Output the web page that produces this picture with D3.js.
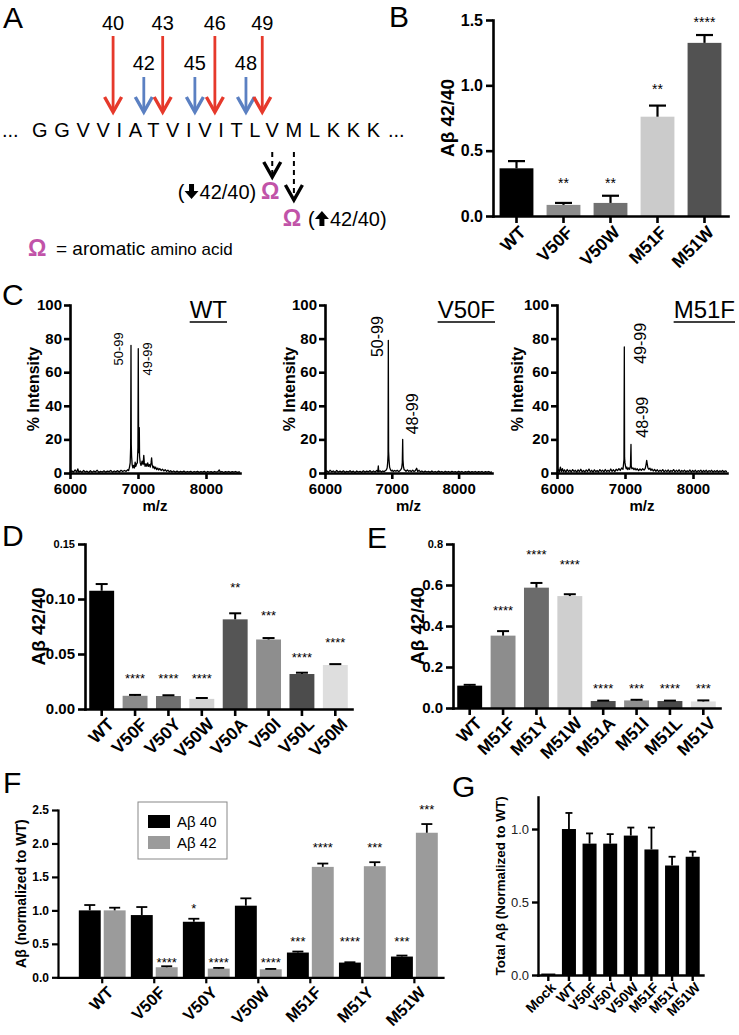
<!DOCTYPE html>
<html><head><meta charset="utf-8">
<script src="https://cdn.jsdelivr.net/npm/d3@7"></script>
<style>body{margin:0;background:#fff} svg text{font-family:"Liberation Sans",Arial,Helvetica,sans-serif}</style>
</head><body><svg id="fig" width="739" height="1035"></svg>
<script>
// ================= DATA =================
// Panel A
const seqResidues = ["G","G","V","V","I","A","T","V","I","V","I","T","L","V","M","L","K","K","K"];
const seqFirstResidue = 37;
const cleavageMajor = [40,43,46,49];
const cleavageMinor = [42,45,48];
const mutSites = [50,51];
const mutEffects = ["down","up"];
// Panel B
const bCats = ["WT","V50F","V50W","M51F","M51W"];
const bVals = [0.365,0.085,0.10,0.76,1.325];
const bErr  = [0.42,0.10,0.155,0.845,1.385];
const bSig  = ["","**","**","**","****"];
const bSigLevel = [null,0.275,0.275,1.0,1.51];
const bTicks = [0,0.5,1.0,1.5];
// Panel C spectra [m/z, % intensity]
const wtSpectrum = [[6000,0.4],[6025,1.3],[6050,0.5],[6075,1.8],[6100,0.6],[6115,2.4],[6130,0.5],[6150,1.2],[6175,0.4],[6200,1.5],[6225,0.6],[6250,1.1],[6275,0.3],[6300,1.4],[6325,0.5],[6350,1.2],[6375,0.7],[6400,1.6],[6425,0.4],[6450,1.0],[6475,0.6],[6500,1.3],[6525,0.5],[6550,1.1],[6575,0.8],[6600,1.5],[6625,0.5],[6650,1.2],[6675,0.7],[6700,1.4],[6725,0.6],[6750,1.6],[6775,0.9],[6800,1.5],[6825,1.0],[6850,1.9],[6862,1.4],[6875,3.5],[6885,6],[6892,15],[6897,76],[6901,17],[6906,10],[6914,5],[6924,3],[6935,4.5],[6948,3],[6958,6.5],[6968,4],[6980,5.5],[6990,6],[6999,15],[7004,74],[7009,20],[7014,12],[7019,27],[7023,10],[7033,6],[7045,4.5],[7060,7],[7075,5],[7085,10.5],[7093,6],[7105,4],[7118,5.5],[7130,4],[7143,6],[7155,4],[7168,5],[7180,3.5],[7192,6],[7200,9],[7208,5],[7220,3],[7232,4],[7245,2.5],[7260,3.5],[7275,2],[7290,2.9],[7305,1.8],[7320,2.6],[7340,1.5],[7360,2.3],[7380,1.2],[7400,2.0],[7420,1.0],[7440,1.7],[7460,0.7],[7480,1.4],[7500,0.6],[7525,1.2],[7550,0.5],[7575,1.1],[7600,0.4],[7625,1.0],[7650,0.5],[7675,1.1],[7700,0.4],[7725,0.9],[7750,0.5],[7775,1.0],[7800,0.3],[7825,0.9],[7850,0.5],[7875,1.0],[7900,0.4],[7925,0.8],[7950,0.5],[7975,1.0],[8000,0.3],[8025,0.9],[8050,0.5],[8075,0.8],[8100,0.4],[8125,0.9],[8150,0.5],[8175,0.8],[8195,1.8],[8210,0.5],[8235,0.9],[8260,0.3],[8285,0.8],[8310,0.5],[8335,0.9],[8360,0.4],[8385,0.8],[8410,0.5],[8435,0.9],[8460,0.4],[8485,0.7],[8500,0.5]];
const v50fSpectrum = [[6000,0.6],[6025,1.4],[6050,0.4],[6075,1.6],[6100,0.7],[6125,1.2],[6150,0.4],[6175,1.5],[6200,0.6],[6225,1.1],[6250,0.5],[6275,1.3],[6300,0.4],[6325,1.0],[6350,0.6],[6375,1.4],[6400,0.5],[6425,1.1],[6450,0.3],[6475,1.2],[6500,0.6],[6525,1.0],[6550,0.4],[6575,1.3],[6600,0.5],[6625,1.1],[6650,0.7],[6675,1.4],[6700,0.5],[6725,1.2],[6750,0.6],[6775,1.5],[6790,0.8],[6798,4.2],[6805,0.8],[6825,1.3],[6845,0.6],[6865,1.2],[6885,0.8],[6905,1.5],[6918,1.8],[6930,3],[6938,6],[6944,11],[6948,79],[6952,13],[6958,8],[6967,3.5],[6980,2],[6992,1.2],[7007,1.7],[7022,0.9],[7042,1.5],[7062,1.0],[7082,1.6],[7102,0.8],[7120,1.4],[7135,1.9],[7148,3],[7157,6],[7163,20],[7167,8],[7174,4],[7184,2],[7198,1.6],[7213,1.0],[7233,1.8],[7253,1.0],[7273,1.5],[7293,0.8],[7313,1.7],[7333,0.9],[7353,1.4],[7372,2.8],[7388,0.8],[7408,1.6],[7428,0.7],[7450,1.2],[7475,0.5],[7500,1.1],[7525,0.6],[7550,1.0],[7575,0.4],[7600,1.2],[7625,0.5],[7650,0.9],[7675,0.4],[7700,1.1],[7725,0.5],[7750,0.9],[7775,0.3],[7800,1.0],[7825,0.5],[7850,0.9],[7875,0.4],[7900,1.0],[7925,0.5],[7950,0.8],[7975,0.4],[8000,1.0],[8025,0.5],[8050,0.9],[8075,0.3],[8100,0.8],[8125,0.5],[8150,1.0],[8175,0.4],[8200,0.8],[8225,0.5],[8250,0.9],[8275,0.4],[8300,0.8],[8325,0.5],[8350,0.9],[8375,0.3],[8400,0.8],[8425,0.5],[8450,0.9],[8475,0.4],[8500,0.7]];
const m51fSpectrum = [[6000,0.8],[6020,2.2],[6035,0.6],[6050,3.5],[6065,0.9],[6080,2.6],[6095,0.7],[6110,1.9],[6130,0.5],[6150,2.1],[6170,0.8],[6190,1.7],[6210,0.6],[6230,2.0],[6250,0.9],[6270,1.6],[6290,0.5],[6310,1.9],[6330,0.8],[6350,2.2],[6370,0.7],[6390,1.5],[6410,0.6],[6430,1.8],[6450,0.9],[6470,2.3],[6490,0.7],[6510,1.6],[6530,0.5],[6550,1.9],[6570,0.8],[6590,1.5],[6610,0.6],[6630,2.0],[6650,0.9],[6670,1.7],[6690,0.7],[6710,2.1],[6730,0.8],[6750,1.6],[6770,0.9],[6790,2.4],[6810,1.0],[6830,1.9],[6850,0.8],[6870,2.2],[6890,1.4],[6910,2.6],[6930,1.5],[6950,3],[6970,2.2],[6978,5],[6985,8],[6990,75],[6994,9],[7000,6],[7008,4],[7018,2.5],[7028,3.5],[7040,2],[7055,3],[7068,2.2],[7080,4],[7088,17],[7092,4],[7102,2.5],[7117,3],[7132,2],[7147,2.8],[7162,1.8],[7180,2.5],[7200,1.5],[7220,2.4],[7240,1.6],[7260,2.5],[7280,1.8],[7297,2.6],[7310,5],[7319,7.5],[7327,5.5],[7337,3],[7352,2.2],[7367,2.8],[7382,1.5],[7397,2.4],[7415,1.2],[7435,2.1],[7455,1.0],[7475,1.9],[7495,0.8],[7515,1.7],[7535,0.9],[7555,2.0],[7575,0.7],[7595,1.6],[7615,0.8],[7635,1.8],[7655,0.6],[7675,1.5],[7695,0.9],[7715,2.0],[7735,0.7],[7755,1.6],[7775,0.8],[7795,1.9],[7815,0.6],[7835,1.5],[7855,0.9],[7875,1.7],[7895,0.6],[7915,1.4],[7935,0.8],[7955,1.8],[7975,0.5],[7995,1.5],[8015,0.8],[8035,1.6],[8055,0.6],[8075,1.4],[8095,0.9],[8115,1.7],[8135,0.5],[8155,1.5],[8175,0.8],[8195,1.6],[8215,0.6],[8235,1.4],[8255,0.9],[8275,1.6],[8295,0.5],[8315,1.4],[8335,0.8],[8355,1.5],[8375,0.6],[8395,1.3],[8415,0.8],[8435,1.5],[8455,0.6],[8475,1.3],[8500,0.8]];
const cXTicks = [6000,7000,8000];
const cYTicks = [0,20,40,60,80,100];
// peak labels: [text, m/z of label centre, intensity at label bottom]
const wtPeakLabels   = [["50-99",6706,64],["49-99",7132,58]];
const v50fPeakLabels = [["50-99",6778,69],["48-99",7302,23]];
const m51fPeakLabels = [["49-99",7221,65],["48-99",7250,21]];
// Panel D
const dCats = ["WT","V50F","V50Y","V50W","V50A","V50I","V50L","V50M"];
const dVals = [0.1075,0.012,0.0118,0.0092,0.0815,0.0632,0.0318,0.0400];
const dErr  = [0.1136,0.0128,0.0125,0.0100,0.0870,0.0645,0.0330,0.0408];
const dSig  = ["","****","****","****","**","***","****","****"];
const dSigLevel = [null,0.031,0.031,0.031,0.1136,0.088,0.050,0.0636];
const dTicks = [0,0.05,0.10,0.15];
// Panel E
const eCats = ["WT","M51F","M51Y","M51W","M51A","M51I","M51L","M51V"];
const eVals = [0.109,0.353,0.587,0.546,0.034,0.037,0.034,0.032];
const eErr  = [0.113,0.375,0.61,0.555,0.036,0.040,0.036,0.037];
const eSig  = ["","****","****","****","****","***","****","***"];
const eSigLevel = [null,0.494,0.766,0.714,0.109,0.109,0.109,0.109];
const eTicks = [0,0.2,0.4,0.6,0.8];
// Panel F
const fCats = ["WT","V50F","V50Y","V50W","M51F","M51Y","M51W"];
const fSeries = ["Aβ 40","Aβ 42"];
const fAb40 = [1.0,0.93,0.83,1.07,0.37,0.22,0.31];
const fAb40Err = [1.08,1.05,0.875,1.18,0.385,0.225,0.325];
const fAb42 = [1.0,0.15,0.13,0.12,1.65,1.66,2.16];
const fAb42Err = [1.04,0.165,0.14,0.125,1.70,1.72,2.29];
const fAb40Sig = ["","","*","","***","****","***"];
const fAb40SigLevel = [null,null,1.08,null,0.587,0.587,0.587];
const fAb42Sig = ["","****","****","****","****","***","***"];
const fAb42SigLevel = [null,0.274,0.274,0.274,1.995,1.995,2.55];
const fTicks = [0,0.5,1.0,1.5,2.0,2.5];
// Panel G
const gCats = ["Mock","WT","V50F","V50Y","V50W","M51F","M51Y","M51W"];
const gVals = [0.01,1.0,0.9,0.9,0.955,0.86,0.75,0.81];
const gErr  = [0.01,1.11,0.97,0.965,1.01,1.01,0.81,0.845];
const gTicks = [0,0.5,1.0];

// ================= STYLES =================
const bColors = ["#000","#8c8c8c","#717171","#cbcbcb","#525252"];
const dColors = ["#000","#8b8b8b","#6f6f6f","#d2d2d2","#555","#8e8e8e","#4c4c4c","#dedede"];
const eColors = ["#000","#8d8d8d","#6b6b6b","#cfcfcf","#4d4d4d","#8e8e8e","#4a4a4a","#dedede"];
const gColors = gCats.map(()=>"#000");
const fColors = ["#000","#9b9b9b"];
const RED = "#e6392b", BLUE = "#5b80c2", MAG = "#c153a8";
const FONT = '"Liberation Sans", Arial, Helvetica, sans-serif';

const svg = d3.select("#fig");

function styleAxis(sel, o){
  sel.select(".domain").attr("stroke","#000").attr("stroke-width",o.lw).attr("stroke-linecap","square");
  sel.selectAll(".tick line").attr("stroke","#000").attr("stroke-width",o.lw);
  sel.selectAll(".tick text").attr("fill",o.tc||"#000").style("font-family",FONT)
     .style("font-size",o.fs+"px").style("font-weight",o.fw||"bold");
}
function panelLetter(t,x,y){
  svg.append("text").attr("x",x).attr("y",y).style("font-size","30px").text(t);
}

// ================= PANEL A =================
(function(){
  const g = svg.append("g");
  panelLetter("A",3,28);
  const seqY = 137;
  g.append("text").attr("x",2).attr("y",seqY).style("font-size","20px").text("...");
  const seq = g.append("text").attr("x",32).attr("y",seqY)
    .attr("textLength",348).attr("lengthAdjust","spacing")
    .style("font-size","20px").text(seqResidues.join(""));
  g.append("text").attr("x",388).attr("y",seqY).style("font-size","20px").text("...");
  const node = seq.node();
  const sx = i => node.getStartPositionOfChar(i).x;
  const ex = i => node.getEndPositionOfChar(i).x;
  const resCenter = r => { const i=r-seqFirstResidue; return (sx(i)+ex(i))/2; };
  const cutX = r => { const i=r-seqFirstResidue; return (ex(i)+sx(i+1))/2; };

  function arrow(x,y1,y2,color,w,dash){
    g.append("line").attr("x1",x).attr("x2",x).attr("y1",y1).attr("y2",y2-3)
      .attr("stroke",color).attr("stroke-width",w).attr("stroke-dasharray",dash||null);
    g.append("path").attr("d",`M${x-8.5},${y2-15}L${x},${y2}L${x+8.5},${y2-15}`)
      .attr("fill","none").attr("stroke",color).attr("stroke-width",3.4).attr("stroke-linejoin","miter");
  }
  cleavageMinor.forEach(r=>{
    const x=cutX(r);
    arrow(x,77,112,BLUE,2.8);
    g.append("text").attr("x",x).attr("y",70).attr("text-anchor","middle").style("font-size","20px").text(r);
  });
  cleavageMajor.forEach(r=>{
    const x=cutX(r);
    arrow(x,36,112,RED,2.8);
    g.append("text").attr("x",x).attr("y",30).attr("text-anchor","middle").style("font-size","20px").text(r);
  });
  function fatArrow(cx,top,dir){
    const h=15;
    const p = dir==="down"
      ? `M${cx-2.5},${top}H${cx+2.5}V${top+7}H${cx+7}L${cx},${top+h}L${cx-7},${top+7}H${cx-2.5}Z`
      : `M${cx-2.5},${top+h}H${cx+2.5}V${top+8}H${cx+7}L${cx},${top}L${cx-7},${top+8}H${cx-2.5}Z`;
    g.append("path").attr("d",p).attr("fill","#000");
  }
  mutSites.forEach((r,k)=>{
    const x = resCenter(r);
    const yEnd = 177 + k*23;
    arrow(x,152,yEnd,"#000",2,"5,4");
    const base = 199 + k*27;
    g.append("text").attr("x",x-2).attr("y",base).attr("text-anchor","middle")
      .attr("fill",MAG).style("font-size","23px").style("font-weight","bold").text("Ω");
    if(mutEffects[k]==="down"){
      const t = g.append("text").attr("x",x-16).attr("y",base).attr("text-anchor","end").style("font-size","20px");
      t.text("42/40)");
      const w = t.node().getComputedTextLength();
      fatArrow(x-16-w-8,base-15,"down");
      g.append("text").attr("x",x-16-w-15).attr("y",base).attr("text-anchor","end").style("font-size","20px").text("(");
    } else {
      g.append("text").attr("x",x+14).attr("y",base).style("font-size","20px").text("(");
      fatArrow(x+28,base-15,"up");
      g.append("text").attr("x",x+36).attr("y",base).style("font-size","20px").text("42/40)");
    }
  });
  g.append("text").attr("x",28).attr("y",256).attr("fill",MAG).style("font-size","23px").style("font-weight","bold").text("Ω");
  const lt = g.append("text").attr("x",56).attr("y",255).style("font-size","19px");
  lt.append("tspan").text("= aromatic ");
  lt.append("tspan").style("font-size","17px").text("amino acid");
})();

// ================= BAR PANEL HELPER =================
function barPanel(o){
  const g = svg.append("g");
  const x = d3.scaleBand().domain(o.cats).range(o.xr).paddingInner(o.pi).paddingOuter(o.po);
  const y = d3.scaleLinear().domain(o.yd).range(o.yr);
  const cx = i => x(o.cats[i]) + x.bandwidth()/2;
  g.selectAll("rect.bar").data(o.vals).join("rect").attr("class","bar")
    .attr("x",(d,i)=>x(o.cats[i])).attr("width",x.bandwidth())
    .attr("y",d=>y(d)).attr("height",d=>y(0)-y(d)).attr("fill",(d,i)=>o.colors[i]);
  const eb = o.errs.map((e,i)=>({i,e})).filter(d=>d.e>o.vals[d.i]);
  g.selectAll("line.es").data(eb).join("line").attr("class","es")
    .attr("x1",d=>cx(d.i)).attr("x2",d=>cx(d.i)).attr("y1",d=>y(o.vals[d.i])).attr("y2",d=>y(d.e))
    .attr("stroke","#000").attr("stroke-width",o.ew);
  g.selectAll("line.ec").data(eb).join("line").attr("class","ec")
    .attr("x1",d=>cx(d.i)-o.cap).attr("x2",d=>cx(d.i)+o.cap).attr("y1",d=>y(d.e)).attr("y2",d=>y(d.e))
    .attr("stroke","#000").attr("stroke-width",o.ew);
  if(o.sig){
    const sd = o.sig.map((s,i)=>({s,i})).filter(d=>d.s);
    g.selectAll("text.sig").data(sd).join("text").attr("class","sig")
      .attr("x",d=>cx(d.i)).attr("y",d=>y(o.sigLevel[d.i])).attr("dy","0.6em")
      .attr("text-anchor","middle").style("font-size",o.sfs+"px").text(d=>d.s);
  }
  const ya = g.append("g").attr("transform",`translate(${o.xr[0]},0)`)
    .call(d3.axisLeft(y).tickValues(o.yt).tickFormat(d3.format(o.fmt)).tickSize(o.tl).tickSizeOuter(0).tickPadding(3));
  styleAxis(ya,{lw:o.lw,fs:o.yfs,fw:o.yfw,tc:o.ytc});
  if(o.topFs) ya.selectAll(".tick text").filter(d=>d===o.yt[o.yt.length-1]).style("font-size",o.topFs+"px");
  const xa = g.append("g").attr("transform",`translate(0,${o.yr[0]})`)
    .call(d3.axisBottom(x).tickSize(o.tl).tickSizeOuter(0));
  styleAxis(xa,{lw:o.lw,fs:o.xfs});
  xa.selectAll(".tick text").attr("x",0).attr("y",0).attr("dy","0.35em").attr("text-anchor","end")
    .attr("transform",`translate(${o.lx},${o.ly}) rotate(-45)`);
  g.append("text").attr("transform",`translate(${o.ylx},${(o.yr[0]+o.yr[1])/2}) rotate(-90)`)
    .attr("dy","0.35em").attr("text-anchor","middle").style("font-size",o.ylfs+"px").style("font-weight","bold").text(o.ylabel);
  return {x,y,g};
}

// ================= PANEL B =================
panelLetter("B",389,27);
barPanel({cats:bCats,vals:bVals,errs:bErr,colors:bColors,sig:bSig,sigLevel:bSigLevel,
  xr:[493,728],yr:[216,20],yd:[0,1.5],yt:bTicks,fmt:".1f",pi:0.28,po:0.14,
  tl:7,lw:2.6,ew:2.2,cap:8.5,yfs:16,xfs:17.5,sfs:14,lx:6,ly:13,ylx:447,ylfs:19,ylabel:"Aβ 42/40"});

// ================= PANEL C =================
function spectrum(o){
  const g = svg.append("g");
  const x = d3.scaleLinear().domain([6000,8500]).range(o.xr);
  const y = d3.scaleLinear().domain([0,100]).range([473,305]);
  g.append("path").datum(o.data).attr("d",d3.line().x(d=>x(d[0])).y(d=>y(d[1])))
    .attr("fill","none").attr("stroke","#000").attr("stroke-width",1.3).attr("stroke-linejoin","round");
  const ya = g.append("g").attr("transform",`translate(${o.xr[0]},0)`)
    .call(d3.axisLeft(y).tickValues(cYTicks).tickSize(6).tickSizeOuter(0).tickPadding(2));
  styleAxis(ya,{lw:2.6,fs:15});
  ya.selectAll(".tick text").attr("dy","0.3em");
  const xa = g.append("g").attr("transform",`translate(0,473)`)
    .call(d3.axisBottom(x).tickValues(cXTicks).tickFormat(d3.format("d")).tickSize(6).tickSizeOuter(0).tickPadding(4));
  styleAxis(xa,{lw:2.6,fs:15});
  g.append("text").attr("x",(o.xr[0]+o.xr[1])/2).attr("y",511).attr("text-anchor","middle")
    .style("font-size","15px").style("font-weight","bold").text("m/z");
  g.append("text").attr("transform",`translate(${o.ylx},389) rotate(-90)`).attr("dy","0.35em")
    .attr("text-anchor","middle").style("font-size","16px").style("font-weight","bold").text("% Intensity");
  const t = g.append("text").attr("x",o.tx).attr("y",318).attr("text-anchor","end").style("font-size","24px").text(o.title);
  const w = t.node().getComputedTextLength();
  g.append("line").attr("x1",o.tx-w).attr("x2",o.tx).attr("y1",322).attr("y2",322).attr("stroke","#000").attr("stroke-width",1.6);
  o.labels.forEach(l=>{
    g.append("text").attr("transform",`translate(${x(l[1])},${y(l[2])}) rotate(-90)`).attr("dy","0.35em")
      .style("font-size",o.lfs+"px").text(l[0]);
  });
}
panelLetter("C",2,305);
spectrum({data:wtSpectrum,xr:[70,240],ylx:33,tx:227,title:"WT",labels:wtPeakLabels,lfs:13});
spectrum({data:v50fSpectrum,xr:[325,492],ylx:289,tx:495,title:"V50F",labels:v50fPeakLabels,lfs:16});
spectrum({data:m51fSpectrum,xr:[557,727],ylx:517,tx:735,title:"M51F",labels:m51fPeakLabels,lfs:16});

// ================= PANEL D =================
panelLetter("D",2,546);
barPanel({cats:dCats,vals:dVals,errs:dErr,colors:dColors,sig:dSig,sigLevel:dSigLevel,
  xr:[85,352],yr:[709,544],yd:[0,0.15],yt:dTicks,fmt:".2f",pi:0.254,po:0.127,
  tl:7,lw:2.6,ew:2,cap:6,yfs:15,topFs:11,xfs:17.5,sfs:13,lx:9,ly:12,ylx:38,ylfs:19,ylabel:"Aβ 42/40"});

// ================= PANEL E =================
panelLetter("E",367,548);
barPanel({cats:eCats,vals:eVals,errs:eErr,colors:eColors,sig:eSig,sigLevel:eSigLevel,
  xr:[453,720],yr:[708,544],yd:[0,0.8],yt:eTicks,fmt:".1f",pi:0.254,po:0.127,
  tl:7,lw:2.6,ew:2,cap:6,yfs:15,topFs:11,xfs:17.5,sfs:13,lx:9,ly:12,ylx:417,ylfs:19,ylabel:"Aβ 42/40"});

// ================= PANEL F =================
panelLetter("F",3,793);
(function(){
  const g = svg.append("g");
  const xr=[58,443], yr=[977.3,810];
  const x0 = d3.scaleBand().domain(fCats).range(xr).paddingInner(0.1).paddingOuter(0.25).align(0.8);
  const x1 = d3.scaleBand().domain(fSeries).range([0,x0.bandwidth()]).paddingInner(0.12);
  const y = d3.scaleLinear().domain([0,2.5]).range(yr);
  const series = [
    {k:fSeries[0],v:fAb40,e:fAb40Err,s:fAb40Sig,l:fAb40SigLevel,c:fColors[0]},
    {k:fSeries[1],v:fAb42,e:fAb42Err,s:fAb42Sig,l:fAb42SigLevel,c:fColors[1]}];
  series.forEach(se=>{
    const cx = i => x0(fCats[i]) + x1(se.k) + x1.bandwidth()/2;
    g.selectAll(null).data(se.v).join("rect")
      .attr("x",(d,i)=>x0(fCats[i])+x1(se.k)).attr("width",x1.bandwidth())
      .attr("y",d=>y(d)).attr("height",d=>y(0)-y(d)).attr("fill",se.c);
    g.selectAll(null).data(se.e).join("line")
      .attr("x1",(d,i)=>cx(i)).attr("x2",(d,i)=>cx(i)).attr("y1",(d,i)=>y(se.v[i])).attr("y2",d=>y(d))
      .attr("stroke","#000").attr("stroke-width",1.8);
    g.selectAll(null).data(se.e).join("line")
      .attr("x1",(d,i)=>cx(i)-5.5).attr("x2",(d,i)=>cx(i)+5.5).attr("y1",d=>y(d)).attr("y2",d=>y(d))
      .attr("stroke","#000").attr("stroke-width",1.8);
    const sd = se.s.map((s,i)=>({s,i})).filter(d=>d.s);
    g.selectAll(null).data(sd).join("text").attr("x",d=>cx(d.i)).attr("y",d=>y(se.l[d.i])).attr("dy","0.6em")
      .attr("text-anchor","middle").style("font-size","13px").text(d=>d.s);
  });
  const ya = g.append("g").attr("transform",`translate(${xr[0]},0)`)
    .call(d3.axisLeft(y).tickValues(fTicks).tickFormat(d3.format(".1f")).tickSize(6).tickSizeOuter(0).tickPadding(3));
  styleAxis(ya,{lw:2.2,fs:12});
  const xa = g.append("g").attr("transform",`translate(0,${yr[0]})`)
    .call(d3.axisBottom(x0).tickSize(6).tickSizeOuter(0));
  styleAxis(xa,{lw:2.2,fs:16.5});
  xa.selectAll(".tick text").attr("x",0).attr("y",0).attr("dy","0.35em").attr("text-anchor","end")
    .attr("transform","translate(8,12) rotate(-45)");
  g.append("text").attr("transform",`translate(21,${(yr[0]+yr[1])/2}) rotate(-90)`).attr("dy","0.35em")
    .attr("text-anchor","middle").style("font-size","14px").style("font-weight","bold").text("Aβ (normalized to WT)");
  // legend
  const lg = g.append("g");
  lg.append("rect").attr("x",138).attr("y",802).attr("width",89).attr("height",57)
    .attr("fill","#fff").attr("stroke","#888").attr("stroke-width",1);
  fSeries.forEach((s,i)=>{
    lg.append("rect").attr("x",148).attr("y",815+i*21).attr("width",22).attr("height",13).attr("fill",fColors[i]);
    lg.append("text").attr("x",177).attr("y",827+i*21).style("font-size","15px").text(s);
  });
})();

// ================= PANEL G =================
panelLetter("G",452,797);
barPanel({cats:gCats,vals:gVals,errs:gErr,colors:gColors,
  xr:[538,703],yr:[975,796.9],yd:[0,1.22],yt:gTicks,fmt:".1f",pi:0.32,po:0.16,
  tl:6,lw:2.4,ew:1.8,cap:3.5,yfs:13,yfw:"normal",ytc:"#222",xfs:14,lx:5,ly:10,ylx:500,ylfs:13.5,
  ylabel:"Total Aβ (Normalized to WT)"});
</script></body></html>
